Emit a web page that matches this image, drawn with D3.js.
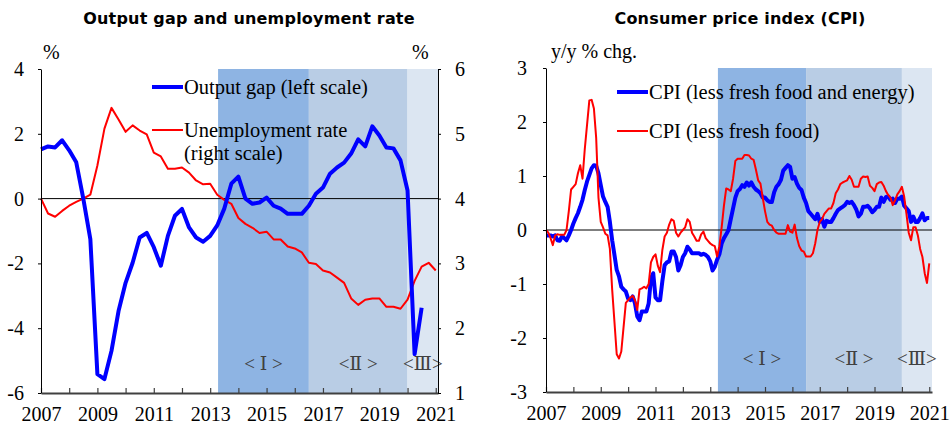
<!DOCTYPE html>
<html>
<head>
<meta charset="utf-8">
<script src="https://cdn.jsdelivr.net/npm/d3@7"></script>
<style>
body { margin: 0; background: #fff; }
text { font-family: "Liberation Serif", "Times New Roman", serif; font-size: 20px; fill: #000; }
.legend { font-size: 20.5px; }
.title { font-family: "DejaVu Sans", sans-serif; font-weight: bold; font-size: 16px; letter-spacing: 0.2px; }
.period { font-family: "Liberation Serif", "DejaVu Serif", "Noto Sans CJK JP", serif; font-size: 19px; fill: #404040; }
</style>
</head>
<body>
<div id="chart"></div>
<script>
// Output gap (%), quarterly from 2007Q1.
var outputGap = [
  1.52, 1.61, 1.58, 1.80, 1.49, 1.12, 0.00, -1.25, -5.42, -5.57,
  -4.70, -3.47, -2.60, -1.98, -1.20, -1.06, -1.50, -2.07, -1.15, -0.53,
  -0.32, -0.89, -1.20, -1.33, -1.15, -0.83, -0.31, 0.46, 0.68, 0.00,
  -0.16, -0.12, 0.03, -0.22, -0.31, -0.47, -0.47, -0.47, -0.22, 0.15,
  0.34, 0.77, 0.96, 1.11, 1.39, 1.83, 1.61, 2.23, 1.95, 1.58,
  1.55, 1.18, 0.25, -4.80, -3.37
];

// Unemployment rate (%), quarterly from 2007Q1.
var unemployment = [
  4.00, 3.77, 3.72, 3.81, 3.89, 3.95, 4.00, 4.06, 4.51, 5.08,
  5.40, 5.22, 5.03, 5.13, 5.05, 4.99, 4.71, 4.65, 4.46, 4.46,
  4.48, 4.40, 4.28, 4.22, 4.23, 4.06, 3.98, 3.92, 3.70, 3.61,
  3.55, 3.47, 3.49, 3.37, 3.37, 3.26, 3.23, 3.17, 3.01, 2.99,
  2.89, 2.86, 2.78, 2.70, 2.46, 2.36, 2.44, 2.46, 2.46, 2.33,
  2.33, 2.30, 2.44, 2.73, 2.95, 3.01, 2.89
];

// CPI less fresh food and energy (y/y %), monthly from Jan 2007.
var cpiCore = [
  -0.10, -0.10, -0.10, -0.12, -0.10, -0.19, -0.20, -0.12, -0.15, -0.19,
  -0.10, 0.00, 0.12, 0.22, 0.31, 0.43, 0.56, 0.74, 0.90, 1.02,
  1.14, 1.20, 1.19, 1.05, 0.83, 0.62, 0.52, 0.43, 0.15, -0.19,
  -0.46, -0.74, -0.86, -1.05, -1.10, -1.14, -1.27, -1.30, -1.23, -1.36,
  -1.60, -1.67, -1.51, -1.51, -1.51, -1.36, -0.90, -0.80, -1.25, -1.30,
  -1.30, -0.95, -0.65, -0.60, -0.58, -0.40, -0.40, -0.50, -0.75, -0.65,
  -0.50, -0.43, -0.31, -0.36, -0.43, -0.43, -0.43, -0.43, -0.46, -0.44,
  -0.46, -0.50, -0.58, -0.75, -0.68, -0.55, -0.45, -0.25, -0.15, -0.08,
  0.00, 0.20, 0.40, 0.60, 0.72, 0.76, 0.83, 0.80, 0.88, 0.82,
  0.88, 0.80, 0.75, 0.72, 0.68, 0.60, 0.60, 0.55, 0.52, 0.52,
  0.70, 0.80, 0.85, 0.93, 1.10, 1.15, 1.20, 1.17, 0.95, 0.98,
  0.86, 0.78, 0.74, 0.60, 0.50, 0.35, 0.30, 0.25, 0.20, 0.30,
  0.15, 0.20, 0.06, 0.17, 0.15, 0.15, 0.22, 0.30, 0.37, 0.40,
  0.43, 0.46, 0.52, 0.50, 0.52, 0.46, 0.38, 0.25, 0.30, 0.43,
  0.43, 0.45, 0.40, 0.33, 0.37, 0.43, 0.43, 0.60, 0.52, 0.61,
  0.62, 0.56, 0.58, 0.50, 0.58, 0.58, 0.62, 0.45, 0.40, 0.35,
  0.15, 0.25, 0.15, 0.15, 0.22, 0.31, 0.18, 0.22, 0.22
];

// CPI less fresh food (y/y %), monthly from Jan 2007.
var cpiLessFresh = [
  0.00, -0.05, -0.15, -0.28, -0.10, -0.08, -0.09, -0.09, -0.09, 0.00,
  0.35, 0.75, 0.80, 0.85, 1.05, 1.20, 0.95, 1.50, 1.95, 2.40,
  2.41, 2.25, 1.70, 0.60, 0.15, 0.05, -0.07, -0.10, -0.35, -1.10,
  -1.70, -2.30, -2.38, -2.25, -1.80, -1.35, -1.30, -1.25, -1.22, -1.30,
  -1.48, -1.10, -1.08, -1.05, -1.08, -1.00, -0.60, -0.50, -0.45, -0.66,
  -0.78, -0.37, -0.12, -0.05, 0.10, 0.20, 0.17, -0.05, -0.12, -0.05,
  0.00, 0.05, 0.20, 0.15, -0.05, -0.12, -0.20, -0.20, -0.08, -0.03,
  -0.15, -0.20, -0.25, -0.28, -0.30, -0.49, -0.30, 0.05, 0.45, 0.77,
  0.75, 0.72, 0.95, 1.28, 1.32, 1.32, 1.32, 1.39, 1.39, 1.38,
  1.32, 1.30, 1.12, 0.92, 0.86, 0.60, 0.35, 0.15, 0.10, 0.08,
  0.00, -0.05, -0.07, -0.07, -0.07, -0.07, 0.09, -0.03, -0.05, 0.10,
  -0.15, -0.30, -0.38, -0.40, -0.49, -0.49, -0.49, -0.43, -0.25, 0.00,
  0.15, 0.20, 0.30, 0.35, 0.40, 0.40, 0.50, 0.68, 0.75, 0.85,
  0.88, 0.90, 0.92, 1.00, 0.93, 0.80, 0.80, 0.80, 0.95, 0.99,
  0.98, 0.99, 0.82, 0.78, 0.72, 0.85, 0.88, 0.89, 0.82, 0.72,
  0.65, 0.60, 0.46, 0.55, 0.66, 0.72, 0.80, 0.62, 0.30, -0.05,
  -0.19, 0.05, 0.05, -0.10, -0.35, -0.50, -0.80, -0.98, -0.62
];

// Policy periods and tick values.
var periodNames = ["< \u2160 >", "<\u2161 >", "<\u2162>"];
var periodStarts = [2013.28, 2016.5, 2020.0];
var yearTicks = [2007, 2008, 2009, 2010, 2011, 2012, 2013, 2014, 2015, 2016, 2017, 2018, 2019, 2020, 2021];
var gapTicks = [-6, -4, -2, 0, 2, 4];
var unempTicks = [1, 2, 3, 4, 5, 6];
var cpiTicks = [-3, -2, -1, 0, 1, 2, 3];

var shadeColors = ["#8eb4e3", "#b9cde5", "#dce6f2"];

// SVG element.
var svg = d3.select("#chart")
    .append("svg")
    .attr("width", 952)
    .attr("height", 430);

// Scales.
var x1 = d3.scaleLinear().domain([2007, 2021.08]).range([41, 438]),
    y1 = d3.scaleLinear().domain([-6, 4]).range([393, 69]),
    y1r = d3.scaleLinear().domain([1, 6]).range([393, 69]);

var x2 = d3.scaleLinear().domain([2007, 2021.1]).range([546, 932]),
    y2 = d3.scaleLinear().domain([-3, 3]).range([392, 68]);

// Shaded policy periods.
function shade(x, y) {
    var end = x.domain()[1];
    svg.append("g").selectAll("rect")
        .data(periodStarts)
        .enter().append("rect")
        .attr("x", function(d) { return x(d); })
        .attr("width", function(d, i) { return x(i < periodStarts.length - 1 ? periodStarts[i + 1] : end) - x(d); })
        .attr("y", y.range()[1])
        .attr("height", y.range()[0] - y.range()[1])
        .attr("fill", function(d, i) { return shadeColors[i]; });
}

function periodLabels(x, yPos) {
    var end = x.domain()[1];
    svg.append("g").selectAll("text")
        .data(periodStarts)
        .enter().append("text")
        .attr("class", "period")
        .attr("x", function(d, i) {
            var e = i < periodStarts.length - 1 ? periodStarts[i + 1] : end;
            return (x(d) + x(e)) / 2;
        })
        .attr("y", yPos)
        .attr("text-anchor", "middle")
        .text(function(d, i) { return periodNames[i]; });
}

function zeroLine(x, y) {
    svg.append("line")
        .attr("x1", x.range()[0]).attr("x2", x.range()[1])
        .attr("y1", y(0)).attr("y2", y(0))
        .attr("stroke", "#000").attr("stroke-width", 1);
}

function series(values, step, x, y, color, w) {
    var line = d3.line()
        .x(function(d, i) { return x(2007 + i / step); })
        .y(function(d) { return y(d); });
    svg.append("path")
        .datum(values)
        .attr("fill", "none")
        .attr("stroke", color)
        .attr("stroke-width", w)
        .attr("stroke-linejoin", "round")
        .attr("d", line);
}

function xAxis(x, yPos) {
    var g = svg.append("g")
        .attr("transform", "translate(0," + yPos + ")")
        .call(d3.axisBottom(x)
            .tickValues(yearTicks)
            .tickSizeInner(-5)
            .tickSizeOuter(0)
            .tickPadding(14)
            .tickFormat(function(d) { return (d - 2007) % 2 === 0 ? d : ""; }));
    g.select(".domain").attr("stroke", "#404040").attr("stroke-width", 2);
    g.selectAll(".tick line").attr("stroke", "#404040").attr("stroke-width", 1.2);
}

function yAxis(axis, xPos) {
    var g = svg.append("g")
        .attr("transform", "translate(" + xPos + ",0)")
        .call(axis.tickSizeInner(3).tickSizeOuter(0).tickFormat(function(d) { return String(d); }));
    g.select(".domain").attr("stroke", "#000");
}

// Left panel: output gap and unemployment rate.
shade(x1, y1);
periodLabels(x1, 370);
zeroLine(x1, y1);
series(unemployment, 4, x1, y1r, "#ff0000", 2);
series(outputGap, 4, x1, y1, "#0000ff", 4);
xAxis(x1, 393);
yAxis(d3.axisLeft(y1).tickValues(gapTicks).tickPadding(14), 41);
yAxis(d3.axisRight(y1r).tickValues(unempTicks).tickPadding(14), 438);

// Right panel: CPI.
shade(x2, y2);
periodLabels(x2, 365);
zeroLine(x2, y2);
series(cpiCore, 12, x2, y2, "#0000ff", 4);
series(cpiLessFresh, 12, x2, y2, "#ff0000", 2);
xAxis(x2, 392);
yAxis(d3.axisLeft(y2).tickValues(cpiTicks).tickPadding(16), 546);

// Titles and unit labels.
svg.append("text").attr("class", "title").attr("x", 249).attr("y", 24)
    .attr("text-anchor", "middle").text("Output gap and unemployment rate");
svg.append("text").attr("class", "title").attr("x", 740).attr("y", 24)
    .attr("text-anchor", "middle").text("Consumer price index (CPI)");
svg.append("text").attr("x", 43).attr("y", 59).text("%");
svg.append("text").attr("x", 412).attr("y", 59).text("%");
svg.append("text").attr("x", 551).attr("y", 58).text("y/y % chg.");

// Legends.
function legendItem(x0, yPos, color, w, lines) {
    svg.append("line")
        .attr("x1", x0).attr("x2", x0 + 31)
        .attr("y1", yPos).attr("y2", yPos)
        .attr("stroke", color).attr("stroke-width", w);
    lines.forEach(function(t, i) {
        svg.append("text")
            .attr("class", "legend")
            .attr("x", x0 + 32)
            .attr("y", yPos + 7 + i * 23)
            .text(t);
    });
}

legendItem(152, 87, "#0000ff", 4, ["Output gap (left scale)"]);
legendItem(152, 130, "#ff0000", 2, ["Unemployment rate", "(right scale)"]);
legendItem(617, 92, "#0000ff", 4, ["CPI (less fresh food and energy)"]);
legendItem(617, 131, "#ff0000", 2, ["CPI (less fresh food)"]);
</script>
</body>
</html>
